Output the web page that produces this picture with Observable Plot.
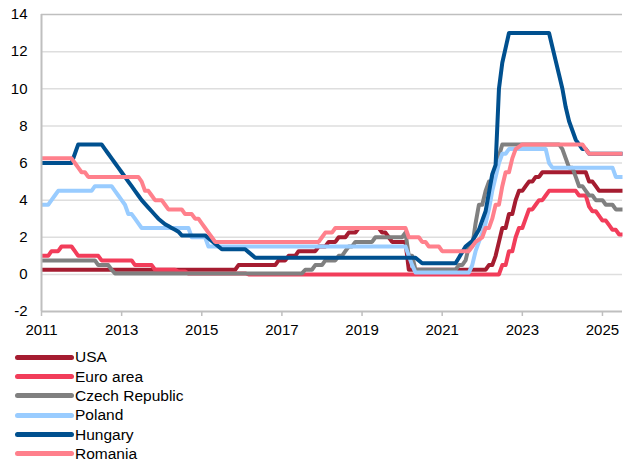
<!DOCTYPE html>
<html><head><meta charset="utf-8">
<script src="https://cdn.jsdelivr.net/npm/d3@7"></script>
<script src="https://cdn.jsdelivr.net/npm/@observablehq/plot@0.6"></script>
<style>
body{margin:0;background:#fff;font-family:"Liberation Sans",Arial,sans-serif;}
#chart{position:relative;width:623px;height:466px;overflow:hidden;}
.legend{position:absolute;left:0;top:347.5px;}
.row{display:flex;align-items:center;height:19.3px;font-size:15.5px;color:#000;line-height:1;}
.row svg{display:block;}
</style></head><body><div id="chart"></div>
<script>
// Policy rates (%), vertices [month, value]
const usa = [["2011-01",0.25],["2015-11",0.25],["2015-12",0.5],["2016-11",0.5],["2016-12",0.75],["2017-02",0.75],["2017-03",1.0],["2017-05",1.0],["2017-06",1.25],["2017-11",1.25],["2017-12",1.5],["2018-02",1.5],["2018-03",1.75],["2018-05",1.75],["2018-06",2.0],["2018-08",2.0],["2018-09",2.25],["2018-11",2.25],["2018-12",2.5],["2019-06",2.5],["2019-07",2.25],["2019-08",2.25],["2019-09",2.0],["2019-10",1.75],["2020-02",1.75],["2020-03",0.25],["2022-02",0.25],["2022-03",0.5],["2022-04",0.5],["2022-05",1.0],["2022-06",1.75],["2022-07",2.5],["2022-08",2.5],["2022-09",3.25],["2022-10",3.25],["2022-11",4.0],["2022-12",4.5],["2023-01",4.5],["2023-02",4.75],["2023-03",5.0],["2023-04",5.0],["2023-05",5.25],["2023-06",5.25],["2023-07",5.5],["2024-08",5.5],["2024-09",5.0],["2024-10",5.0],["2024-11",4.75],["2024-12",4.5],["2025-07",4.5]];
const euroArea = [["2011-01",1.0],["2011-03",1.0],["2011-04",1.25],["2011-06",1.25],["2011-07",1.5],["2011-10",1.5],["2011-11",1.25],["2011-12",1.0],["2012-06",1.0],["2012-07",0.75],["2013-04",0.75],["2013-05",0.5],["2013-10",0.5],["2013-11",0.25],["2014-05",0.25],["2014-06",0.15],["2014-08",0.15],["2014-09",0.05],["2016-02",0.05],["2016-03",0.0],["2022-06",0.0],["2022-07",0.5],["2022-08",0.5],["2022-09",1.25],["2022-10",1.25],["2022-11",2.0],["2022-12",2.5],["2023-01",2.5],["2023-02",3.0],["2023-03",3.5],["2023-04",3.5],["2023-05",3.75],["2023-06",4.0],["2023-07",4.0],["2023-08",4.25],["2023-09",4.5],["2024-05",4.5],["2024-06",4.25],["2024-08",4.25],["2024-09",3.65],["2024-10",3.4],["2024-11",3.4],["2024-12",3.15],["2025-01",2.9],["2025-02",2.9],["2025-03",2.65],["2025-04",2.4],["2025-05",2.4],["2025-06",2.15],["2025-07",2.15]];
const czechRepublic = [["2011-01",0.75],["2012-05",0.75],["2012-06",0.5],["2012-09",0.5],["2012-10",0.25],["2012-11",0.05],["2017-07",0.05],["2017-08",0.25],["2017-10",0.25],["2017-11",0.5],["2018-01",0.5],["2018-02",0.75],["2018-05",0.75],["2018-06",1.0],["2018-07",1.0],["2018-08",1.25],["2018-09",1.5],["2018-10",1.5],["2018-11",1.75],["2019-04",1.75],["2019-05",2.0],["2020-01",2.0],["2020-02",2.25],["2020-03",1.0],["2020-04",1.0],["2020-05",0.25],["2021-05",0.25],["2021-06",0.5],["2021-07",0.5],["2021-08",0.75],["2021-09",1.5],["2021-10",1.5],["2021-11",2.75],["2021-12",3.75],["2022-01",3.75],["2022-02",4.5],["2022-03",5.0],["2022-04",5.0],["2022-05",5.75],["2022-07",7.0],["2023-12",7.0],["2024-01",6.75],["2024-02",6.25],["2024-03",5.75],["2024-04",5.75],["2024-05",5.25],["2024-06",4.75],["2024-07",4.75],["2024-08",4.5],["2024-09",4.25],["2024-10",4.25],["2024-11",4.0],["2025-01",4.0],["2025-02",3.75],["2025-04",3.75],["2025-05",3.5],["2025-07",3.5]];
const poland = [["2011-01",3.75],["2011-03",3.75],["2011-04",4.0],["2011-05",4.25],["2011-06",4.5],["2012-04",4.5],["2012-05",4.75],["2012-10",4.75],["2012-11",4.5],["2012-12",4.25],["2013-01",4.0],["2013-02",3.75],["2013-03",3.25],["2013-04",3.25],["2013-05",3.0],["2013-06",2.75],["2013-07",2.5],["2014-09",2.5],["2014-10",2.0],["2015-02",2.0],["2015-03",1.5],["2020-02",1.5],["2020-03",1.0],["2020-04",0.5],["2020-05",0.1],["2021-09",0.1],["2021-10",0.5],["2021-11",1.25],["2021-12",1.75],["2022-01",2.25],["2022-02",2.75],["2022-03",3.5],["2022-04",4.5],["2022-05",5.25],["2022-06",6.0],["2022-07",6.5],["2022-08",6.5],["2022-09",6.75],["2023-08",6.75],["2023-09",6.0],["2023-10",5.75],["2025-04",5.75],["2025-05",5.25],["2025-07",5.25]];
const hungary = [["2011-01",6.0],["2011-10",6.0],["2011-11",6.5],["2011-12",7.0],["2012-07",7.0],["2012-08",6.75],["2012-09",6.5],["2012-10",6.25],["2012-11",6.0],["2012-12",5.75],["2013-01",5.5],["2013-02",5.25],["2013-03",5.0],["2013-04",4.75],["2013-05",4.5],["2013-06",4.25],["2013-07",4.0],["2013-08",3.8],["2013-09",3.6],["2013-10",3.4],["2013-11",3.2],["2013-12",3.0],["2014-01",2.85],["2014-02",2.7],["2014-03",2.6],["2014-04",2.5],["2014-05",2.4],["2014-06",2.3],["2014-07",2.1],["2015-02",2.1],["2015-03",1.95],["2015-04",1.8],["2015-05",1.65],["2015-06",1.5],["2015-07",1.35],["2016-02",1.35],["2016-03",1.2],["2016-04",1.05],["2016-05",0.9],["2020-05",0.9],["2020-06",0.75],["2020-07",0.6],["2021-05",0.6],["2021-06",0.9],["2021-07",1.2],["2021-08",1.5],["2021-09",1.65],["2021-10",1.8],["2021-11",2.1],["2021-12",2.4],["2022-01",2.9],["2022-02",3.4],["2022-03",4.4],["2022-04",5.4],["2022-05",5.9],["2022-06",10.0],["2022-07",11.4],["2022-08",12.2],["2022-09",13.0],["2023-09",13.0],["2023-10",12.25],["2023-11",11.5],["2023-12",10.75],["2024-01",10.0],["2024-02",9.0],["2024-03",8.25],["2024-04",7.75],["2024-05",7.25],["2024-06",7.0],["2024-07",6.75],["2024-08",6.75],["2024-09",6.5],["2025-07",6.5]];
const romania = [["2011-01",6.25],["2011-10",6.25],["2011-11",6.0],["2011-12",5.75],["2012-01",5.5],["2012-02",5.5],["2012-03",5.25],["2013-06",5.25],["2013-07",5.0],["2013-08",4.5],["2013-09",4.5],["2013-10",4.25],["2013-11",4.0],["2014-01",4.0],["2014-02",3.75],["2014-03",3.5],["2014-07",3.5],["2014-08",3.25],["2014-10",3.25],["2014-11",3.0],["2014-12",3.0],["2015-01",2.75],["2015-02",2.5],["2015-03",2.25],["2015-04",2.0],["2015-05",1.75],["2017-12",1.75],["2018-01",2.0],["2018-02",2.25],["2018-04",2.25],["2018-05",2.5],["2020-02",2.5],["2020-03",2.0],["2020-06",2.0],["2020-07",1.75],["2020-08",1.75],["2020-09",1.5],["2020-12",1.5],["2021-01",1.25],["2021-09",1.25],["2021-10",1.5],["2021-11",1.75],["2022-01",2.0],["2022-02",2.5],["2022-03",2.5],["2022-04",3.0],["2022-05",3.75],["2022-06",3.75],["2022-07",4.75],["2022-08",5.5],["2022-09",5.5],["2022-10",6.25],["2022-11",6.75],["2023-01",7.0],["2024-07",7.0],["2024-08",6.75],["2024-09",6.5],["2025-07",6.5]];

const seriesNames = ["USA","Euro area","Czech Republic","Poland","Hungary","Romania"];
const seriesColors = ["#A51C30","#F23D5A","#808080","#99CCFF","#00508F","#FF808C"];
const xTicks = [2011,2013,2015,2017,2019,2021,2023,2025];
const yTicks = [-2,0,2,4,6,8,10,12,14];

const toYear = s => { const [y,m] = s.split("-").map(Number); return y + (m-1)/12; };
const seriesData = [usa, euroArea, czechRepublic, poland, hungary, romania];
const rows = seriesData.flatMap((arr,i) => arr.map(([d,v]) => ({series: seriesNames[i], t: toYear(d), v})));

const plot = Plot.plot({
  width: 623, height: 340,
  marginLeft: 41, marginRight: 1, marginTop: 14, marginBottom: 29,
  style: {fontFamily: "'Liberation Sans', Arial, sans-serif", fontSize: "15px", color: "#000", background: "transparent", overflow: "visible"},
  x: {domain: [2011, 2025.5]},
  y: {domain: [-2, 14]},
  color: {domain: seriesNames, range: seriesColors},
  marks: [
    Plot.gridY(yTicks.filter(d => d > -2 && d < 14), {stroke: "#dedede", strokeOpacity: 1, strokeWidth: 1.5}),
    Plot.ruleY([14], {stroke: "#bfbfbf", strokeWidth: 1.5}),
    Plot.line(rows, {x: "t", y: "v", z: "series", stroke: "series", strokeWidth: 4, strokeLinejoin: "round", strokeLinecap: "butt"}),
    Plot.ruleY([-2], {stroke: "#bfbfbf", strokeWidth: 2}),
    Plot.ruleX([2011], {stroke: "#bfbfbf", strokeWidth: 2}),
    Plot.axisX({ticks: xTicks, tickFormat: d => String(d), tickSize: 5, tickPadding: 8, stroke: "#bfbfbf", strokeWidth: 1.5, fill: "#000", label: null}),
    Plot.axisY({ticks: yTicks, tickFormat: d => String(d), tickSize: 0, tickPadding: 14, fill: "#000", label: null})
  ]
});
const chart = document.getElementById("chart");
chart.appendChild(plot);

const legend = document.createElement("div");
legend.className = "legend";
seriesNames.forEach((name, i) => {
  const row = document.createElement("div");
  row.className = "row";
  row.innerHTML = `<svg width="75" height="19"><line x1="17.5" y1="9.5" x2="71.5" y2="9.5" stroke="${seriesColors[i]}" stroke-width="5" stroke-linecap="round"/></svg><span>${name}</span>`;
  legend.appendChild(row);
});
chart.appendChild(legend);
</script></body></html>
